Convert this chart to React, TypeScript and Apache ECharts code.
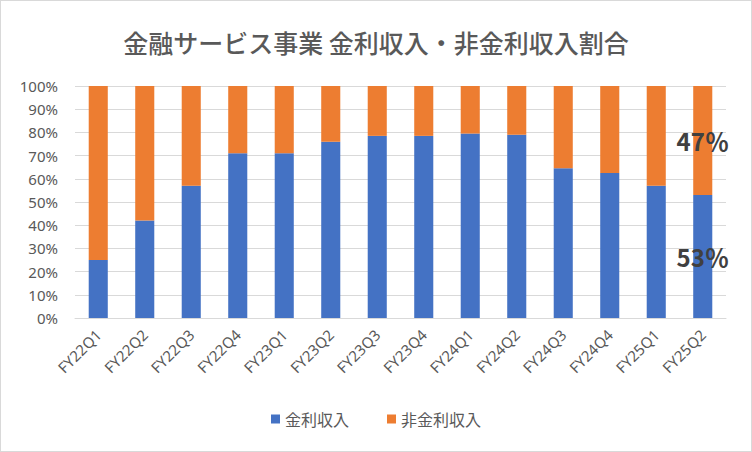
import React, { useEffect, useRef } from "react";
import * as echarts from "echarts";

const categories = [
  "FY22Q1", "FY22Q2", "FY22Q3", "FY22Q4",
  "FY23Q1", "FY23Q2", "FY23Q3", "FY23Q4",
  "FY24Q1", "FY24Q2", "FY24Q3", "FY24Q4",
  "FY25Q1", "FY25Q2",
];
const interestIncome = [25, 42, 57, 71, 71, 76, 78.5, 78.5, 79.5, 79, 64.5, 62.5, 57, 53];
const nonInterestIncome = [75, 58, 43, 29, 29, 24, 21.5, 21.5, 20.5, 21, 35.5, 37.5, 43, 47];
const yTickLabels = ["0%", "10%", "20%", "30%", "40%", "50%", "60%", "70%", "80%", "90%", "100%"];
const seriesNames = ["金利収入", "非金利収入"];
const title = "金融サービス事業 金利収入・非金利収入割合";

const JP = "'Noto Sans CJK JP', 'Noto Sans', sans-serif";
const LAT = "'Noto Sans', 'Noto Sans CJK JP', sans-serif";

function withLastLabel(values: number[]) {
  return values.map((v, i) =>
    i === values.length - 1
      ? {
          value: v,
          label: {
            show: true,
            position: "inside",
            formatter: (p: any) => `${Math.round(p.value)}％`,
            color: "#404040",
            fontSize: 24,
            fontWeight: "bold",
            fontFamily: JP,
          },
        }
      : v
  );
}

export default function App() {
  const ref = useRef<HTMLDivElement>(null);
  useEffect(() => {
    document.body.style.margin = "0";
    if (!ref.current) return;
    const chart = echarts.init(ref.current, undefined, { renderer: "svg" });
    chart.setOption({
      animation: false,
      backgroundColor: "#ffffff",
      title: {
        text: title,
        left: "center",
        top: 23,
        textStyle: { color: "#595959", fontSize: 25, fontWeight: 500, fontFamily: JP },
      },
      grid: { left: 74, right: 25, top: 85, bottom: 133, containLabel: false },
      legend: {
        data: seriesNames,
        bottom: 19,
        left: "center",
        icon: "rect",
        itemWidth: 9,
        itemHeight: 9,
        itemGap: 38,
        textStyle: { color: "#595959", fontSize: 16, fontFamily: JP },
      },
      xAxis: {
        type: "category",
        data: categories,
        axisLine: { lineStyle: { color: "#d9d9d9" } },
        axisTick: { show: false },
        axisLabel: { rotate: 45, color: "#595959", fontSize: 15, fontFamily: LAT, margin: 14, interval: 0 },
      },
      yAxis: {
        type: "value",
        min: 0,
        max: 100,
        interval: 10,
        axisLine: { show: false },
        axisTick: { show: false },
        splitLine: { lineStyle: { color: "#d9d9d9", width: 1 } },
        axisLabel: {
          color: "#595959",
          fontSize: 15,
          fontFamily: LAT,
          margin: 17,
          formatter: (v: number) => yTickLabels[Math.round(v / 10)],
        },
      },
      series: [
        {
          name: seriesNames[0],
          type: "bar",
          stack: "total",
          barWidth: "41%",
          itemStyle: { color: "#4472c4" },
          data: withLastLabel(interestIncome),
        },
        {
          name: seriesNames[1],
          type: "bar",
          stack: "total",
          barWidth: "41%",
          itemStyle: { color: "#ed7d31" },
          data: withLastLabel(nonInterestIncome),
        },
      ],
    });
    return () => chart.dispose();
  }, []);
  return (
    <div
      style={{
        width: 752,
        height: 452,
        boxSizing: "border-box",
        border: "1px solid #d9d9d9",
        background: "#fff",
      }}
    >
      <div ref={ref} style={{ width: 750, height: 450 }} />
    </div>
  );
}
